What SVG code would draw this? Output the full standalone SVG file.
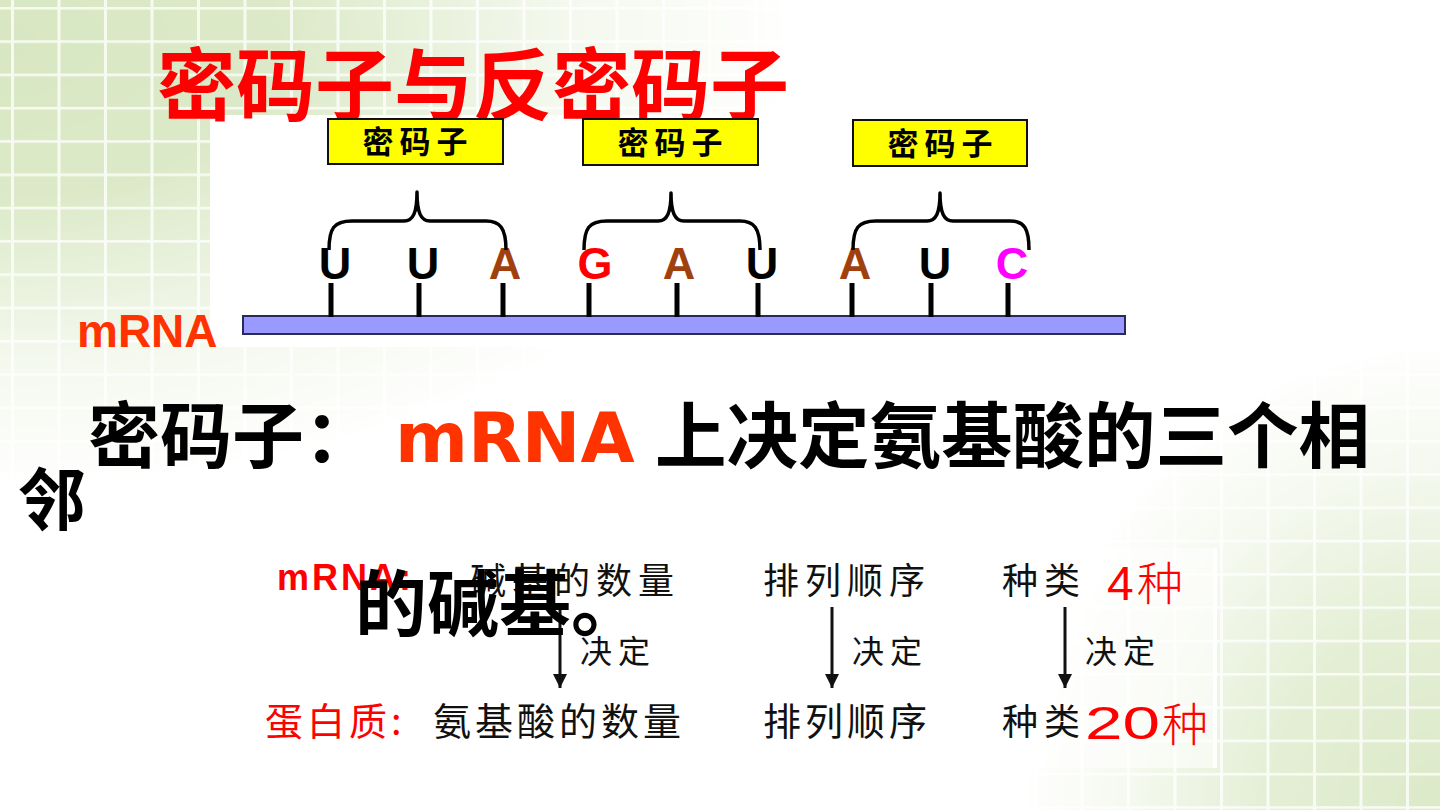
<svg xmlns="http://www.w3.org/2000/svg" width="1440" height="810" viewBox="0 0 1440 810">
<defs>
  <pattern id="grid" patternUnits="userSpaceOnUse" x="11" y="7" width="46.5" height="33.3">
    <rect width="46.5" height="33.3" fill="#d8e7c2"/>
    <rect width="3" height="33.3" fill="#f6faf0"/>
    <rect width="46.5" height="2.6" fill="#f6faf0"/>
  </pattern>
  <radialGradient id="g1" gradientUnits="userSpaceOnUse" cx="0" cy="0" r="1" gradientTransform="translate(0,40) scale(800,450)">
    <stop offset="0" stop-color="#fff" stop-opacity="1"/>
    <stop offset="0.35" stop-color="#fff" stop-opacity="0.9"/>
    <stop offset="0.7" stop-color="#fff" stop-opacity="0.3"/>
    <stop offset="1" stop-color="#fff" stop-opacity="0"/>
  </radialGradient>
  <radialGradient id="g2" gradientUnits="userSpaceOnUse" cx="0" cy="0" r="1" gradientTransform="translate(1440,810) scale(420,470)">
    <stop offset="0" stop-color="#fff" stop-opacity="0.9"/>
    <stop offset="0.4" stop-color="#fff" stop-opacity="0.7"/>
    <stop offset="0.75" stop-color="#fff" stop-opacity="0.25"/>
    <stop offset="1" stop-color="#fff" stop-opacity="0"/>
  </radialGradient>
  <mask id="fade" maskUnits="userSpaceOnUse" x="0" y="0" width="1440" height="810">
    <rect width="1440" height="810" fill="url(#g1)"/>
    <rect width="1440" height="810" fill="url(#g2)"/>
  </mask>
  <marker id="arr" markerUnits="userSpaceOnUse" markerWidth="14" markerHeight="14" refX="14" refY="7" orient="auto">
    <path d="M0,0 L14,7 L0,14 z" fill="#111"/>
  </marker>
  <style>
    .cjk { font-family: "Noto Sans CJK SC", "Noto Sans", sans-serif; }
    .big { font-family: "Noto Sans CJK SC", sans-serif; font-weight: 700; fill: #000; }
    .box { fill: #ffff00; stroke: #111; stroke-width: 2; }
    .boxtxt { font-family: "Noto Sans CJK SC", sans-serif; font-weight: 700; font-size: 31px; letter-spacing: 6px; fill: #000; text-anchor: middle; }
    .base { font-family: "Liberation Sans", Arial, sans-serif; font-weight: 700; font-size: 45px; text-anchor: middle; }
    .stick { stroke: #000; stroke-width: 5; }
    .brace { fill: none; stroke: #000; stroke-width: 3.5; stroke-linejoin: round; }
    .tbl { font-family: "Noto Sans CJK SC", sans-serif; fill: #111; }
    .arrow { stroke: #111; stroke-width: 3; marker-end: url(#arr); }
  </style>
</defs>

<!-- background -->
<rect width="1440" height="810" fill="#ffffff"/>
<rect width="1440" height="810" fill="url(#grid)" mask="url(#fade)"/>
<rect x="210" y="115" width="930" height="232" fill="#ffffff"/>
<rect x="240" y="548" width="975" height="220" fill="#ffffff" opacity="0.55"/>
<rect x="1213" y="548" width="4" height="220" fill="#ffffff"/>

<!-- title -->
<text id="title" class="cjk" x="157" y="115" font-size="79" font-weight="700" fill="#ff0000">密码子与反密码子</text>

<!-- codon boxes -->
<g id="codon-box-1">
  <rect class="box" x="328" y="119" width="175" height="45"/>
  <text class="boxtxt" x="418" y="153">密码子</text>
</g>
<g id="codon-box-2">
  <rect class="box" x="583" y="119" width="175" height="46"/>
  <text class="boxtxt" x="673" y="154">密码子</text>
</g>
<g id="codon-box-3">
  <rect class="box" x="853" y="120" width="174" height="46"/>
  <text class="boxtxt" x="943" y="155">密码子</text>
</g>

<!-- mRNA strand -->
<g id="mrna-strand">
  <rect x="243" y="316" width="882" height="18" fill="#9999ff" stroke="#2a2a5a" stroke-width="2"/>
  <text x="77" y="347" font-family="Liberation Sans, Arial, sans-serif" font-weight="700" font-size="46" fill="#ff3300">mRNA</text>
</g>

<!-- bases -->
<g id="base-1"><line class="stick" x1="331" y1="283" x2="331" y2="317"/><text class="base" x="335" y="279" fill="#000">U</text></g>
<g id="base-2"><line class="stick" x1="419" y1="283" x2="419" y2="317"/><text class="base" x="423" y="279" fill="#000">U</text></g>
<g id="base-3"><line class="stick" x1="503" y1="283" x2="503" y2="317"/><text class="base" x="505" y="279" fill="#a0410d">A</text></g>
<g id="base-4"><line class="stick" x1="589" y1="283" x2="589" y2="317"/><text class="base" x="595" y="279" fill="#ff0000">G</text></g>
<g id="base-5"><line class="stick" x1="677" y1="283" x2="677" y2="317"/><text class="base" x="679" y="279" fill="#a0410d">A</text></g>
<g id="base-6"><line class="stick" x1="758" y1="283" x2="758" y2="317"/><text class="base" x="762" y="279" fill="#000">U</text></g>
<g id="base-7"><line class="stick" x1="852" y1="283" x2="852" y2="317"/><text class="base" x="855" y="279" fill="#a0410d">A</text></g>
<g id="base-8"><line class="stick" x1="931" y1="283" x2="931" y2="317"/><text class="base" x="935" y="279" fill="#000">U</text></g>
<g id="base-9"><line class="stick" x1="1008" y1="283" x2="1008" y2="317"/><text class="base" x="1012" y="279" fill="#ff00ff">C</text></g>

<!-- connectors -->
<g id="connectors">
  <path class="brace" d="M329,250 C329,228 334,221 352,221 L404,221 C413,221 417,213 417,192 C417,213 421,221 430,221 L486,221 C500,221 506,228 506,250"/>
  <path class="brace" d="M584,250 C584,228 589,221 607,221 L658,221 C667,221 671,213 671,193 C671,213 675,221 684,221 L740,221 C754,221 760,228 760,250"/>
  <path class="brace" d="M853,250 C853,228 858,221 876,221 L927,221 C936,221 940,213 940,193 C940,213 944,221 953,221 L1010,221 C1024,221 1029,228 1029,250"/>
  <line class="arrow" x1="560" y1="607" x2="560" y2="688"/>
  <line class="arrow" x1="832" y1="607" x2="832" y2="688"/>
  <line class="arrow" x1="1065" y1="607" x2="1065" y2="688"/>
</g>

<!-- definition -->
<g id="definition">
  <text class="big" x="88" y="462" font-size="72">密码子：</text>
  <text x="395" y="462" font-family="DejaVu Sans, sans-serif" font-weight="700" font-size="70" fill="#ff3300">mRNA</text>
  <text class="big" x="655" y="462" font-size="71.5">上决定氨基酸的三个相</text>
  <text class="big" x="18" y="525" font-size="68">邻</text>
</g>

<!-- table -->
<g id="table-row-mrna">
  <text x="277" y="590" font-family="Liberation Sans, Arial, sans-serif" font-weight="700" font-size="36" letter-spacing="3" fill="#ff0000">mRNA:</text>
  <text class="tbl" x="470" y="594" font-size="36" letter-spacing="6">碱基的数量</text>
  <text class="tbl" x="763" y="594" font-size="36" letter-spacing="6">排列顺序</text>
  <text class="tbl" x="1002" y="594" font-size="36" letter-spacing="6">种类</text>
  <text x="1107" y="600" font-family="Liberation Sans, Arial, sans-serif" font-size="48" fill="#ff0000">4</text>
  <text class="cjk" x="1137" y="600" font-size="46" fill="#ff0000" font-weight="300">种</text>
</g>
<g id="table-labels">
  <text class="tbl" x="580" y="663" font-size="32" letter-spacing="6">决定</text>
  <text class="tbl" x="852" y="663" font-size="32" letter-spacing="6">决定</text>
  <text class="tbl" x="1085" y="663" font-size="32" letter-spacing="6">决定</text>
</g>
<g id="table-row-protein">
  <text class="cjk" x="265" y="735" font-size="38" letter-spacing="4" fill="#ff0000">蛋白质:</text>
  <text class="tbl" x="433" y="735" font-size="38" letter-spacing="4">氨基酸的数量</text>
  <text class="tbl" x="763" y="735" font-size="38" letter-spacing="4">排列顺序</text>
  <text class="tbl" x="1002" y="735" font-size="36" letter-spacing="6">种类</text>
  <text x="1085" y="739" font-family="Liberation Sans, Arial, sans-serif" font-size="46" fill="#ff0000" textLength="75" lengthAdjust="spacingAndGlyphs">20</text>
  <text class="cjk" x="1162" y="741" font-size="46" fill="#ff0000" font-weight="300">种</text>
</g>

<!-- overlapping second line of definition -->
<text id="definition-line2" class="big" x="355" y="630" font-size="72">的碱基。</text>
</svg>
